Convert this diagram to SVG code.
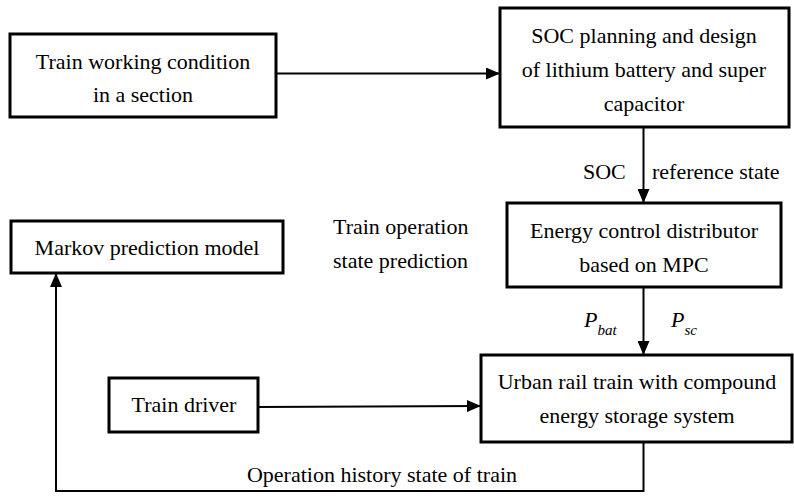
<svg xmlns="http://www.w3.org/2000/svg" width="794" height="496" viewBox="0 0 794 496" font-family="Liberation Serif, DejaVu Serif, serif">
<style>
.box{fill:#fff;stroke:#000;stroke-width:3}
.t{font-size:22px;fill:#000}
.c{text-anchor:middle}
.ln{fill:none;stroke:#000;stroke-width:2}
.i{font-style:italic}
</style>
<defs>
<marker id="ah" markerUnits="userSpaceOnUse" markerWidth="14" markerHeight="12" refX="13" refY="6" orient="auto">
<path d="M0,0 L14,6 L0,12 Z" fill="#000"/>
</marker>
</defs>
<g id="connectors">
<path class="ln" d="M276,73.5 L499,73.5" marker-end="url(#ah)"/>
<path class="ln" d="M643.5,127 L643.5,202" marker-end="url(#ah)"/>
<path class="ln" d="M643.5,287 L643.5,354" marker-end="url(#ah)"/>
<path class="ln" d="M258,407 L480,406" marker-end="url(#ah)"/>
<path class="ln" d="M643.5,442 L643.5,491 L56,491 L56,274" marker-end="url(#ah)"/>
<text class="t" x="583" y="179" font-family="Liberation Serif, serif">SOC</text>
<text class="t" x="652" y="179">reference state</text>
<text class="t i" x="584" y="327">P<tspan font-size="15" dy="8">bat</tspan></text>
<text class="t i" x="671" y="327">P<tspan font-size="15" dy="8">sc</tspan></text>
<text class="t" x="333" y="234">Train operation</text>
<text class="t" x="333" y="268">state prediction</text>
<text class="t c" x="382" y="482">Operation history state of train</text>
</g>
<g id="n1">
<rect class="box" x="10" y="34" width="266" height="83"/>
<text class="t c" x="143" y="69">Train working condition</text>
<text class="t c" x="143" y="102">in a section</text>
</g>
<g id="n2">
<rect class="box" x="500" y="8" width="289" height="119"/>
<text class="t c" x="644" y="43">SOC planning and design</text>
<text class="t c" x="644" y="77">of lithium battery and super</text>
<text class="t c" x="644" y="111">capacitor</text>
</g>
<g id="n3">
<rect class="box" x="507" y="203" width="274" height="84"/>
<text class="t c" x="644" y="238">Energy control distributor</text>
<text class="t c" x="644" y="272">based on MPC</text>
</g>
<g id="n4">
<rect class="box" x="11" y="221" width="272" height="52"/>
<text class="t c" x="147" y="255">Markov prediction model</text>
</g>
<g id="n5">
<rect class="box" x="109" y="378" width="149" height="54"/>
<text class="t c" x="184" y="412">Train driver</text>
</g>
<g id="n6">
<rect class="box" x="481" y="355" width="311" height="87"/>
<text class="t c" x="637" y="389">Urban rail train with compound</text>
<text class="t c" x="637" y="423">energy storage system</text>
</g>
</svg>
